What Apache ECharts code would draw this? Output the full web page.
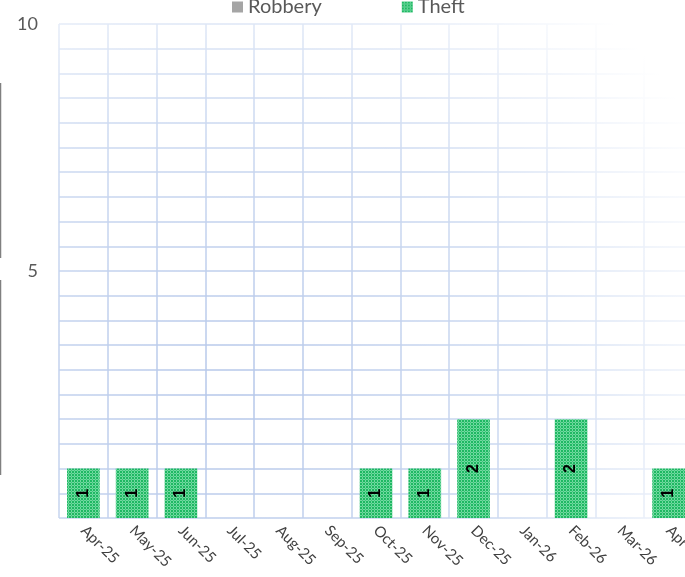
<!DOCTYPE html>
<html>
<head>
<meta charset="utf-8">
<script src="https://cdn.jsdelivr.net/npm/echarts@6/dist/echarts.min.js"></script>
<style>html,body{margin:0;padding:0;background:#fff;}#c{width:685px;height:577px;}</style>
</head>
<body>
<div id="c"></div>
<script>
const categories = ['Apr-25','May-25','Jun-25','Jul-25','Aug-25','Sep-25','Oct-25','Nov-25','Dec-25','Jan-26','Feb-26','Mar-26','Apr-26'];
const robbery = [0,0,0,0,0,0,0,0,0,0,0,0,0];
const theft = [1,1,1,0,0,0,1,1,2,0,2,0,1];
const yLabels = [5, 10];

// textured green fill
const pc = document.createElement('canvas');
pc.width = 3; pc.height = 3;
const g = pc.getContext('2d');
g.fillStyle = '#72d9a0'; g.fillRect(0,0,3,3);
g.fillStyle = '#1fb863'; g.fillRect(0,0,2,2);
g.fillStyle = '#40c67e'; g.fillRect(2,2,1,1);
const pattern = { image: pc, repeat: 'repeat' };

const gridColor = {
  type: 'radial', x: 230, y: 400, r: 540, global: true,
  colorStops: [
    { offset: 0, color: '#b4c6e9' },
    { offset: 0.55, color: '#cddaf1' },
    { offset: 1, color: '#ffffff' }
  ]
};

const chart = echarts.init(document.getElementById('c'), null, { renderer: 'canvas' });
chart.setOption({
  animation: false,
  backgroundColor: '#ffffff',
  textStyle: { fontFamily: 'Lato' },
  legend: {
    left: 227, top: -8,
    itemWidth: 11, itemHeight: 11, itemGap: 80,
    textStyle: { fontSize: 20, color: '#595959', fontFamily: 'Lato' },
    data: [
      { name: 'Robbery', icon: 'rect', itemStyle: { color: '#a5a5a5' } },
      { name: 'Theft', icon: 'rect' }
    ]
  },
  grid: { left: 59, right: -8, top: 24, bottom: 59, containLabel: false, outerBoundsMode: 'none' },
  xAxis: {
    type: 'category',
    data: categories,
    axisLine: { show: false },
    axisTick: { show: false },
    splitLine: { show: true, interval: 0, lineStyle: { color: gridColor, width: 1.5 } },
    axisLabel: { rotate: -45, interval: 0, margin: 10, fontSize: 15, color: '#404040', fontFamily: 'Lato' }
  },
  yAxis: {
    type: 'value',
    min: 0, max: 10, interval: 0.5,
    axisLine: { show: false },
    axisTick: { show: false },
    splitLine: { show: true, lineStyle: { color: gridColor, width: 1.5 } },
    axisLabel: {
      margin: 21, fontSize: 18, color: '#595959', fontFamily: 'Lato',
      formatter: v => (yLabels.indexOf(v) >= 0 ? String(v) : '')
    }
  },
  series: [
    {
      name: 'Robbery', type: 'bar', stack: 'a', data: robbery,
      barWidth: '67%', itemStyle: { color: '#a5a5a5' }
    },
    {
      name: 'Theft', type: 'bar', stack: 'a', data: theft,
      barWidth: '67%', itemStyle: { color: pattern },
      label: {
        show: true, position: 'inside', rotate: 90,
        fontSize: 16, fontWeight: 'bold', color: '#000', fontFamily: 'Liberation Sans',
        formatter: p => (p.value ? String(p.value) : '')
      }
    }
  ],
  graphic: [
    { type: 'line', shape: { x1: 0.5, y1: 83, x2: 0.5, y2: 258 }, style: { stroke: '#808080', lineWidth: 1.5 } },
    { type: 'line', shape: { x1: 0.5, y1: 280, x2: 0.5, y2: 475 }, style: { stroke: '#808080', lineWidth: 1.5 } }
  ]
});
</script>
</body>
</html>
